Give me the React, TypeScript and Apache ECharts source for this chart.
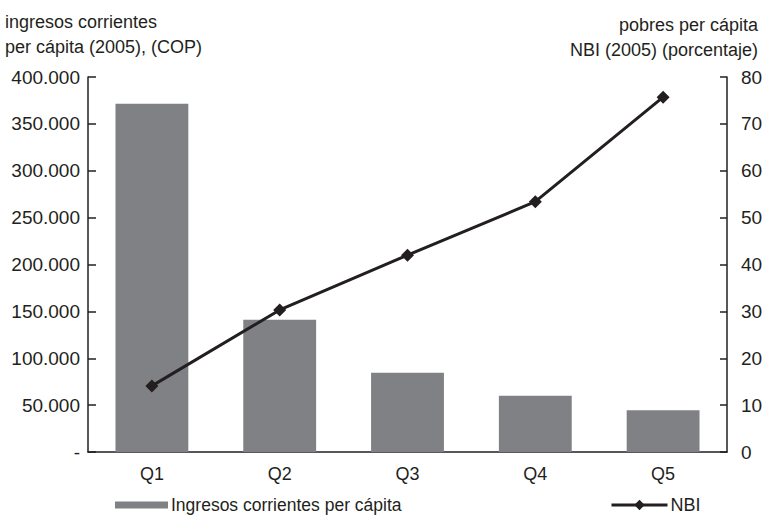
import React, { useEffect, useRef } from "react";
import * as echarts from "echarts";

const categories = ["Q1", "Q2", "Q3", "Q4", "Q5"];
const ingresos = [371500, 141000, 84500, 60000, 44500];
const nbi = [14.1, 30.3, 42.0, 53.4, 75.7];
const leftTitle = "ingresos corrientes\nper cápita (2005), (COP)";
const rightTitleLines = ["pobres per cápita", "NBI (2005) (porcentaje)"];
const barName = "Ingresos corrientes per cápita";
const lineName = "NBI";

const FONT = "'Liberation Sans', Arial, sans-serif";
const INK = "#231f20";

function fmtThousands(v: number): string {
  if (v === 0) return "-";
  return String(v).replace(/\B(?=(\d{3})+(?!\d))/g, ".");
}

const titleText = { fontFamily: FONT, fontSize: 18, fontWeight: "normal", color: INK, lineHeight: 25 };

export default function App() {
  const ref = useRef<HTMLDivElement>(null);

  useEffect(() => {
    if (!ref.current) return;
    const chart = echarts.init(ref.current, undefined, { renderer: "svg" });
    chart.setOption({
      animation: false,
      backgroundColor: "#ffffff",
      textStyle: { fontFamily: FONT, color: INK },
      title: [
        { text: leftTitle, left: 5, top: 9, padding: 0, textStyle: titleText },
        ...rightTitleLines.map((line, i) => ({
          text: line,
          right: 11,
          top: 12 + i * 25,
          padding: 0,
          textStyle: titleText,
        })),
      ],
      legend: [
        {
          data: [barName],
          left: 115,
          top: 496,
          padding: 0,
          itemWidth: 53,
          itemHeight: 7,
          itemGap: 4,
          icon: "rect",
          textStyle: { fontFamily: FONT, fontSize: 17.5, color: INK, lineHeight: 18, padding: [0, 0, 0, -2] },
        },
        {
          data: [lineName],
          left: 610,
          top: 496,
          padding: 0,
          itemWidth: 56,
          itemHeight: 13,
          itemGap: 4,
          lineStyle: { width: 3, color: INK },
          textStyle: { fontFamily: FONT, fontSize: 18, color: INK, lineHeight: 18, padding: [0, 0, 0, -2] },
        },
      ],
      grid: { left: 88, right: 42, top: 77, bottom: 64, containLabel: false },
      xAxis: {
        type: "category",
        data: categories,
        axisLine: { lineStyle: { color: INK, width: 1.5 } },
        axisTick: { show: false },
        axisLabel: { fontFamily: FONT, fontSize: 18, color: INK, margin: 13 },
      },
      yAxis: [
        {
          type: "value",
          min: 0,
          max: 400000,
          interval: 50000,
          axisLine: { show: true, lineStyle: { color: INK, width: 1.5 } },
          axisTick: { show: true, inside: true, length: 8, lineStyle: { color: INK, width: 1.5 } },
          splitLine: { show: false },
          axisLabel: {
            fontFamily: FONT,
            fontSize: 19,
            color: INK,
            margin: 8,
            formatter: (v: number) => fmtThousands(v),
          },
        },
        {
          type: "value",
          min: 0,
          max: 80,
          interval: 10,
          position: "right",
          axisLine: { show: true, lineStyle: { color: INK, width: 1.5 } },
          axisTick: { show: true, inside: true, length: 7, lineStyle: { color: INK, width: 1.5 } },
          splitLine: { show: false },
          axisLabel: { fontFamily: FONT, fontSize: 19, color: INK, margin: 14 },
        },
      ],
      series: [
        {
          name: barName,
          type: "bar",
          data: ingresos,
          yAxisIndex: 0,
          barWidth: "57%",
          itemStyle: { color: "#808184" },
        },
        {
          name: lineName,
          type: "line",
          data: nbi,
          yAxisIndex: 1,
          symbol: "diamond",
          symbolSize: 13,
          lineStyle: { color: INK, width: 3 },
          itemStyle: { color: INK },
        },
      ],
    });
    return () => chart.dispose();
  }, []);

  return <div ref={ref} style={{ width: 769, height: 516, position: "absolute", left: 0, top: 0 }} />;
}
